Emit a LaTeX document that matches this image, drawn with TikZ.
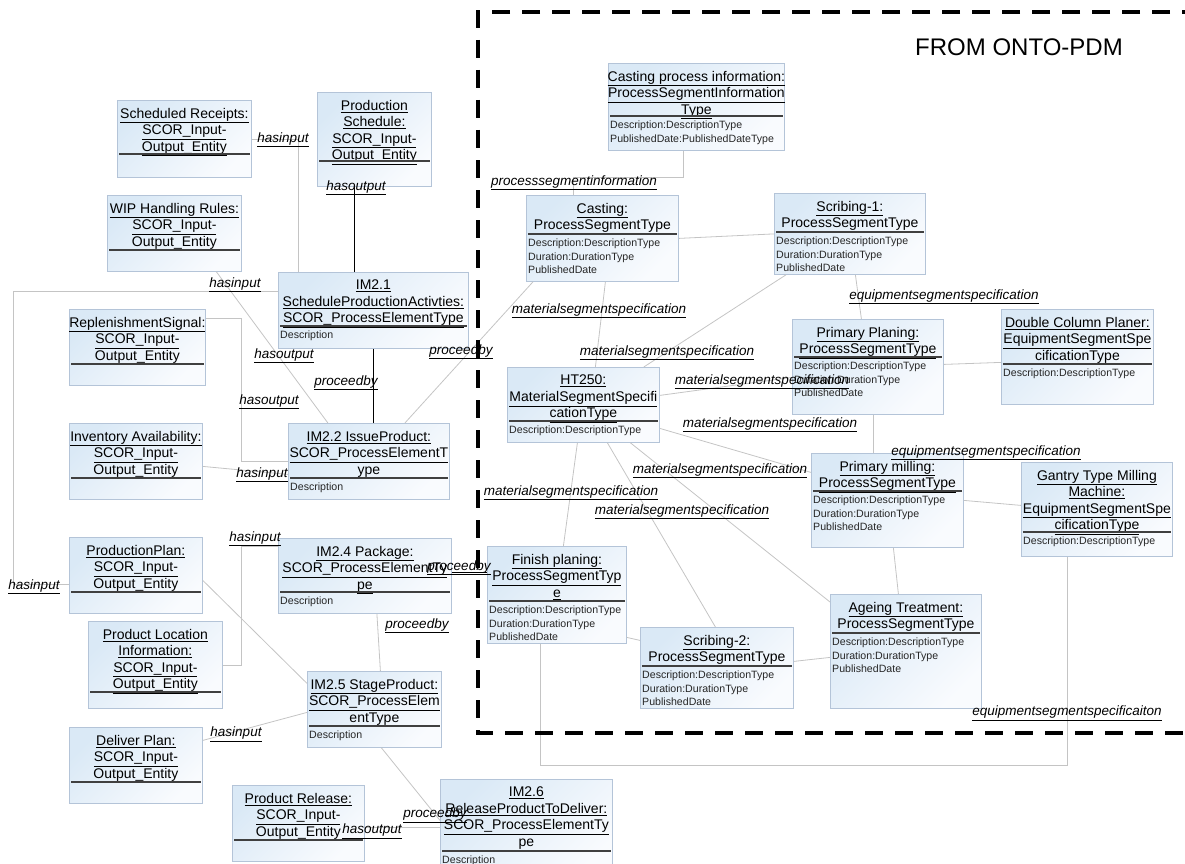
\documentclass[tikz,border=0pt]{standalone}
\usepackage{fontspec}
\setmainfont{Liberation Sans}
\usepackage{xcolor}
\usetikzlibrary{positioning}
\usetikzlibrary{calc}

\definecolor{objline}{HTML}{B4C4D8}
\definecolor{objtop}{HTML}{DAE9F6}
\definecolor{objbot}{HTML}{F9FBFE}
\definecolor{linkgray}{HTML}{C4C4C4}

\tikzset{
  objbox/.style={rectangle, anchor=north west, draw=objline, line width=0.8pt, inner sep=0pt, top color=objtop, bottom color=objbot, shading angle=45},
  objtitle/.style={anchor=north, inner sep=0pt, align=center, font=\fontsize{14}{16.5}\selectfont},
  objattr/.style={anchor=north west, inner sep=0pt, align=left, font=\fontsize{10.6}{13.5}\selectfont, text=black!85},
  objsep/.style={draw=black!75, line width=1.1pt},
  link/.style={draw=linkgray, line width=0.8pt},
  strong/.style={draw=black, line width=1pt},
  relname/.style={inner sep=0pt, font=\fontsize{13.5}{15}\selectfont\itshape},
}

\newcommand{\ulx}[1]{\underline{#1}}
% name, x, y, width, height, title, separator, attributes
\newcommand{\objnode}[8]{%
  \node[objbox, minimum width=#4, minimum height=#5] (#1) at (#2,#3) {};
  \node[objtitle] (#1-title) at ([yshift=-8pt]#1.north) {#6};
  \draw[objsep] ([xshift=2pt,yshift=-#7]#1.north west) -- ([xshift=-2pt,yshift=-#7]#1.north east);
  \node[objattr] (#1-attr) at ([xshift=2pt,yshift=-#7-5pt]#1.north west) {#8};
}

\begin{document}
\begin{tikzpicture}[x=1pt, y=-1pt]
\useasboundingbox (0,0) rectangle (1185,864);
\clip (0,0) rectangle (1185,864);

% SCOR side
\objnode{srec}{117}{100}{134pt}{77pt}{\ulx{Scheduled Receipts:}\\\ulx{SCOR\_Input-}\\\ulx{Output\_Entity}}{54pt}{}
\objnode{psched}{317}{92}{114pt}{94pt}{\ulx{Production}\\\ulx{Schedule:}\\\ulx{SCOR\_Input-}\\\ulx{Output\_Entity}}{69pt}{}
\objnode{wip}{107}{195}{134pt}{76pt}{\ulx{WIP Handling Rules:}\\\ulx{SCOR\_Input-}\\\ulx{Output\_Entity}}{55pt}{}
\objnode{im21}{278}{272}{190pt}{76pt}{\ulx{IM2.1}\\\ulx{ScheduleProductionActivties:}\\\ulx{SCOR\_ProcessElementType}}{54pt}{Description}
\objnode{repl}{69}{309}{136pt}{76pt}{\ulx{ReplenishmentSignal:}\\\ulx{SCOR\_Input-}\\\ulx{Output\_Entity}}{55pt}{}
\objnode{im22}{288}{423}{161pt}{76pt}{\ulx{IM2.2 IssueProduct:}\\\ulx{SCOR\_ProcessElementT}\\\ulx{ype}}{55pt}{Description}
\objnode{inv}{69}{423}{133pt}{76pt}{\ulx{Inventory Availability:}\\\ulx{SCOR\_Input-}\\\ulx{Output\_Entity}}{55pt}{}
\objnode{pplan}{69}{537}{133pt}{76pt}{\ulx{ProductionPlan:}\\\ulx{SCOR\_Input-}\\\ulx{Output\_Entity}}{55pt}{}
\objnode{im24}{278}{538}{173pt}{75pt}{\ulx{IM2.4 Package:}\\\ulx{SCOR\_ProcessElementTy}\\\ulx{pe}}{54pt}{Description}
\objnode{ploc}{88}{621}{134pt}{87pt}{\ulx{Product Location}\\\ulx{Information:}\\\ulx{SCOR\_Input-}\\\ulx{Output\_Entity}}{71pt}{}
\objnode{im25}{307}{671}{134pt}{76pt}{\ulx{IM2.5 StageProduct:}\\\ulx{SCOR\_ProcessElem}\\\ulx{entType}}{55pt}{Description}
\objnode{dplan}{69}{727}{133pt}{76pt}{\ulx{Deliver Plan:}\\\ulx{SCOR\_Input-}\\\ulx{Output\_Entity}}{55pt}{}
\objnode{prel}{232}{785}{132pt}{76pt}{\ulx{Product Release:}\\\ulx{SCOR\_Input-}\\\ulx{Output\_Entity}}{55pt}{}
\objnode{im26}{440}{779}{172pt}{100pt}{\ulx{IM2.6}\\\ulx{ReleaseProductToDeliver:}\\\ulx{SCOR\_ProcessElementTy}\\\ulx{pe}}{72pt}{Description}

% ONTO-PDM side
\objnode{cpi}{608}{63}{176pt}{87pt}{\ulx{Casting process information:}\\\ulx{ProcessSegmentInformation}\\\ulx{Type}}{53pt}{Description:DescriptionType\\PublishedDate:PublishedDateType}
\objnode{cast}{526}{195}{152pt}{86pt}{\ulx{Casting:}\\\ulx{ProcessSegmentType}}{39pt}{Description:DescriptionType\\Duration:DurationType\\PublishedDate}
\objnode{scr1}{774}{193}{151pt}{81pt}{\ulx{Scribing-1:}\\\ulx{ProcessSegmentType}}{39pt}{Description:DescriptionType\\Duration:DurationType\\PublishedDate}
\objnode{pplaning}{792}{319}{151pt}{95pt}{\ulx{Primary Planing:}\\\ulx{ProcessSegmentType}}{38pt}{Description:DescriptionType\\Duration:DurationType\\PublishedDate}
\objnode{dcp}{1001}{309}{152pt}{95pt}{\ulx{Double Column Planer:}\\\ulx{EquipmentSegmentSpe}\\\ulx{cificationType}}{55pt}{Description:DescriptionType}
\objnode{ht}{507}{367}{152pt}{75pt}{\ulx{HT250:}\\\ulx{MaterialSegmentSpecifi}\\\ulx{cationType}}{54pt}{Description:DescriptionType}
\objnode{pmill}{811}{453}{152pt}{94pt}{\ulx{Primary milling:}\\\ulx{ProcessSegmentType}}{38pt}{Description:DescriptionType\\Duration:DurationType\\PublishedDate}
\objnode{gantry}{1021}{462}{151pt}{94pt}{\ulx{Gantry Type Milling}\\\ulx{Machine:}\\\ulx{EquipmentSegmentSpe}\\\ulx{cificationType}}{70pt}{Description:DescriptionType}
\objnode{fin}{487}{546}{139pt}{97pt}{\ulx{Finish planing:}\\\ulx{ProcessSegmentTyp}\\\ulx{e}}{55pt}{Description:DescriptionType\\Duration:DurationType\\PublishedDate}
\objnode{scr2}{640}{627}{153pt}{81pt}{\ulx{Scribing-2:}\\\ulx{ProcessSegmentType}}{39pt}{Description:DescriptionType\\Duration:DurationType\\PublishedDate}
\objnode{age}{830}{594}{151pt}{114pt}{\ulx{Ageing Treatment:}\\\ulx{ProcessSegmentType}}{39pt}{Description:DescriptionType\\Duration:DurationType\\PublishedDate}

% inputs, outputs and process order
\draw[link] (srec.east) -| ([xshift=-75pt]im21.north);
\draw[strong] ([xshift=-20pt]psched.south) -- ([xshift=-20pt]psched.south |- im21.north);
\draw[link] ([xshift=42pt]wip.south) -- ([xshift=-41pt]im22.north);
\draw[link] ([yshift=-9pt]pplan.west) -- ++(-56,0) |- ([yshift=19pt]im21.west);
\draw[strong] (im21.south) -- (im21.south |- im22.north);
\draw[link] ([xshift=36pt]im22.north) -- ([xshift=7pt]cast.south west);
\draw[link] ([yshift=29pt]repl.east) -- ++(36,0) |- (im22.west);
\draw[link] ([yshift=-5pt]inv.east) -- ([yshift=-13pt]im22.west);
\draw[link] (ploc.east) -- ++(19,0) |- ([yshift=30pt]im24.west);
\draw[link] ([yshift=-5pt]pplan.east) -- ([yshift=26pt]im25.west);
\draw[link] ([yshift=25pt]dplan.east) -- ([yshift=-3pt]im25.west);
\draw[link] ([xshift=12pt]im24.south) -- ([xshift=6pt]im25.north);
\draw[strong] ([yshift=3pt]im24.east) -- ([yshift=3pt]im24.east -| fin.west);
\draw[link] ([xshift=7pt]im25.south) -- ([yshift=9pt]im26.west);
\draw[link] ([yshift=-4pt]prel.east) -- ([yshift=-4pt]prel.east -| im26.west);

% segment specifications
\draw[link] ([xshift=-13pt]cpi.south) -- ++(0,27) -| ([xshift=-29pt]cast.north);
\draw[link] (cast.east) -- (scr1.west);
\draw[link] ([xshift=3pt]cast.south) -- ([xshift=12pt]ht.north);
\draw[link] ([xshift=12pt]scr1.south west) -- ([xshift=-16pt]ht.north east);
\draw[link] ([xshift=5.5pt]scr1.south) -- ([xshift=-6.5pt]pplaning.north);
\draw[link] ([yshift=2.5pt]pplaning.east) -- ([yshift=-5.5pt]dcp.west);
\draw[link] ([yshift=9.5pt]ht.east) -- ([yshift=-10.5pt]pplaning.west);
\draw[link] ([xshift=5.5pt]pplaning.south) -- ([xshift=-14pt]pmill.north);
\draw[link] ([yshift=-23.5pt]ht.east) -- ([yshift=28pt]pmill.west);
\draw[link] ([xshift=47pt]ht.south) -- ([yshift=-8pt]age.north west);
\draw[link] ([xshift=24pt]ht.south) -- ([xshift=-1.5pt]scr2.north);
\draw[link] ([xshift=-6pt]ht.south) -- ([xshift=6.5pt]fin.north);
\draw[link] (pmill.east) -- ([yshift=4pt]gantry.west);
\draw[link] ([xshift=6pt]pmill.south) -- ([xshift=-7.5pt]age.north);
\draw[link] ([yshift=-42.5pt]fin.east) -- ([yshift=27.5pt]scr2.west);
\draw[link] ([yshift=6.5pt]scr2.east) -- ([yshift=-6pt]age.west);
\draw[link] ([xshift=-29.5pt]gantry.south) -- ++(0,209) -| ([xshift=-16.5pt]fin.south);

% frame
\draw[line width=4pt, dash pattern=on 18pt off 12pt] (1200,12) -- (478,12) -- (478,733) -- (1200,733);
\node[font=\fontsize{24}{28}\selectfont] (onto) at (1019,47) {FROM ONTO-PDM};

% relation names
\node[relname] (in-srec) at (283,140) {\ulx{hasinput}};
\node[relname] (out-psched) at (356,188) {\ulx{hasoutput}};
\node[relname] (in-plan) at (235,285) {\ulx{hasinput}};
\node[relname] (out-wip) at (284,356) {\ulx{hasoutput}};
\node[relname] (by-im22) at (346,383) {\ulx{proceedby}};
\node[relname] (by-cast) at (461,352) {\ulx{proceedby}};
\node[relname] (out-repl) at (269,402) {\ulx{hasoutput}};
\node[relname] (in-inv) at (262,475) {\ulx{hasinput}};
\node[relname] (in-ploc) at (255,539) {\ulx{hasinput}};
\node[relname] (in-pplan) at (34,587) {\ulx{hasinput}};
\node[relname] (by-fin) at (459,568) {\ulx{proceedby}};
\node[relname] (by-im25) at (417,626) {\ulx{proceedby}};
\node[relname] (in-dplan) at (236,734) {\ulx{hasinput}};
\node[relname] (by-im26) at (435,815) {\ulx{proceedby}};
\node[relname] (out-prel) at (372,831) {\ulx{hasoutput}};
\node[relname] (psi) at (574,183) {\ulx{processsegmentinformation}};
\node[relname] (ms-cast) at (599,311) {\ulx{materialsegmentspecification}};
\node[relname] (ms-scr1) at (667,353) {\ulx{materialsegmentspecification}};
\node[relname] (ms-pplaning) at (762,382) {\ulx{materialsegmentspecification}};
\node[relname] (es-scr1) at (944,297) {\ulx{equipmentsegmentspecification}};
\node[relname] (ms-pmill) at (770,425) {\ulx{materialsegmentspecification}};
\node[relname] (es-pmill) at (986,453) {\ulx{equipmentsegmentspecification}};
\node[relname] (ms-age) at (720,471) {\ulx{materialsegmentspecification}};
\node[relname] (ms-fin) at (571,493) {\ulx{materialsegmentspecification}};
\node[relname] (ms-scr2) at (682,512) {\ulx{materialsegmentspecification}};
\node[relname] (es-gantry) at (1067,713) {\ulx{equipmentsegmentspecificaiton}};
\end{tikzpicture}
\end{document}
